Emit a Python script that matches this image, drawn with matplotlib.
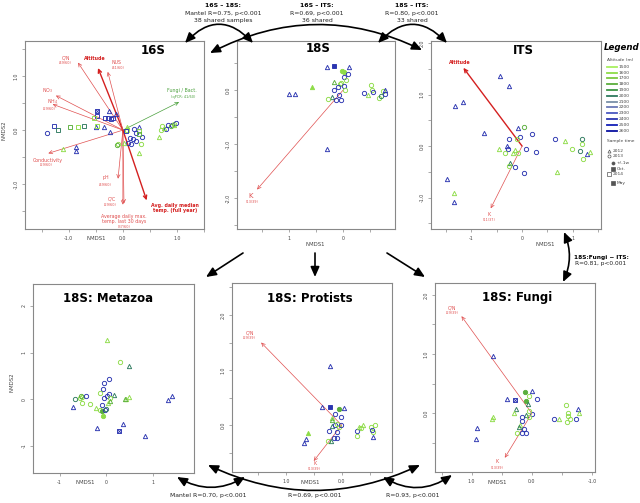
import matplotlib
matplotlib.use("Agg")
import matplotlib.pyplot as plt
from matplotlib.patches import FancyArrowPatch
from matplotlib.lines import Line2D
from matplotlib.ticker import MultipleLocator, FuncFormatter

W, H = 640, 503

# altitude classes (m) and their colours
altitudes = [1500, 1600, 1700, 1800, 1900, 2000, 2100, 2200, 2300, 2400, 2500, 2600]
alt_colors = ['#a8f060', '#8edc48', '#7cc840', '#5aae3c', '#3c9444', '#2e7a5e',
              '#7a90a8', '#6a78b8', '#4a58c0', '#2a34b0', '#1420b8', '#0a10a0']

# kinds: t=2012, c=2013, w=2013 +/-1w, x=2013 Oct., s=2014, m=2014 May, T=filled triangle
# ---- 16S ----
s16_x = [-1.41, -1.28, -1.20, -0.98, -0.83, -0.72, -1.10, -0.87, -0.87, -0.47, -0.48, -0.53, -0.33,
         -0.28, -0.22, -0.25, -0.13, -0.18, -0.49, -0.47, -0.35, -0.24, 0.07, 0.08, 0.05, 0.20,
         0.30, 0.30, 0.35, 0.25, 0.14, 0.19, 0.24, 0.10, 0.15, -0.09, -0.11, 0.02, 0.34, 0.29,
         0.66, 0.70, 0.72, 0.80, 0.83, 0.90, 0.94, 0.99, 0.89, 0.95, 0.76, 0.30]
s16_y = [-0.05, 0.07, 0.00, 0.06, 0.05, 0.08, -0.35, -0.32, -0.38, 0.36, 0.26, 0.22, 0.23,
         0.23, 0.20, 0.35, 0.30, 0.23, 0.06, 0.08, 0.06, -0.03, 0.01, 0.06, -0.02, 0.03,
         0.06, -0.01, -0.12, -0.06, -0.14, -0.17, -0.20, -0.24, -0.26, -0.25, -0.27, -0.23, -0.26, -0.42,
         -0.12, 0.00, 0.07, 0.03, 0.09, 0.10, 0.12, 0.14, 0.08, 0.10, 0.04, -0.08]
s16_kind = ("csssss" + "ttt" + "x" + "sssss" + "tt" + "s" + "t" + "s" + "tt" + "s" + "t" + "s" + "c"
            + "t" + "s" + "ccccccccc" + "t" + "c" + "tt" + "cccccccc" + "tt" + "s")
s16_alt = [2400, 2400, 2000, 1800, 1600, 2000, 1600, 2400, 2400, 2400, 2400, 1600, 2400,
           2400, 2400, 2400, 2400, 2400, 2400, 1600, 2400, 2400, 1600, 1600, 2400, 2400,
           2400, 1600, 2400, 2400, 2400, 2400, 2400, 2400, 2400, 1600, 1800, 1600, 1600, 1600,
           1600, 1600, 1600, 2400, 2400, 2400, 1600, 2400, 1800, 1600, 1600, 1800]
s16_vec_names = ['C/N', 'Altitude', 'NUS', 'NO$_3$', 'NH$_4$', 'Fungi / Bact.', 'Conductivity', 'pH',
                 'C/C', 'Average daily max.\ntemp. last 30 days', 'Avg. daily median\ntemp. (full year)']
s16_vec_x = [-0.83, -0.46, -0.28, -1.24, -1.30, 1.04, -1.38, -0.09, 0.02, 0.00, 0.44]
s16_vec_y = [1.25, 1.15, 1.08, 0.64, 0.48, 0.52, -0.43, -0.90, -1.36, -1.38, -1.30]
s16_vec_sub = ['(49/60)', '', '(41/60)', '', '(29/60)', '(qPCR: 41/60)', '(29/60)', '(49/60)',
               '(29/60)', '(37/60)', '']

# ---- 18S ----
s18_x = [0.30, 0.17, -0.11, 0.02, -0.01, -0.09, -0.02, -0.05, 0.17, 0.06, 0.03, 0.58, 0.09, -0.02,
         0.17, -0.04, 0.99, 0.88, 0.07, 0.21, 0.28, 0.13, 0.04, -0.38, -0.47, -0.52, -0.53, -0.56,
         -0.67, -0.70, -0.73, -0.78, -0.78, 0.30]
s18_y = [0.43, 0.44, 0.43, 0.35, 0.34, 0.30, 0.25, 0.19, 0.15, 0.12, 0.13, 0.06, 0.05, 0.07,
         0.00, 0.01, -0.08, -0.07, -0.09, -0.12, -0.17, -0.19, -0.19, -0.06, -0.09, 0.09, 0.00, -0.03,
         -0.14, -0.10, -0.02, 0.01, -0.08, -1.08]
s18_kind = ("tmtwwccct" + "ccT" + "cccc" + "tt" + "c" + "t" + "ccc" + "c" + "t" + "cccccc"
            + "t" + "c" + "t")
s18_alt = [2400, 2400, 2400, 1600, 1600, 2400, 2400, 1600, 1800, 1600, 1600, 1600, 2400, 2400,
           2400, 1600, 2400, 2400, 2400, 2000, 1600, 2400, 2400, 2400, 1600, 1600, 1600, 2400,
           1600, 2000, 1600, 2400, 2400, 2400]
s18_vec_names = ['K']
s18_vec_x = [1.59]
s18_vec_y = [-1.84]
s18_vec_sub = ['(13/39)']

# ---- ITS ----
its_x = [-0.44, -0.26, -1.33, -1.16, -0.75, -0.09, 0.04, 0.20, -0.04, -0.25, -0.10, 0.65, 0.85,
         1.19, 1.19, 0.98, 0.07, -0.46, -0.29, -0.27, -0.13, -0.33, -0.18, -0.08, 0.28, 1.15,
         1.28, 1.35, 1.20, -0.24, -0.26, -0.13, 0.03, 0.69, -1.48, -1.34, -1.35]
its_y = [1.37, 1.17, 0.78, 0.85, 0.26, 0.36, 0.37, 0.23, 0.18, 0.13, 0.14, 0.13, 0.10,
         0.13, 0.04, -0.06, -0.05, -0.05, 0.00, -0.06, -0.08, -0.14, -0.14, -0.13, -0.12, -0.09,
         -0.16, -0.11, -0.26, -0.32, -0.39, -0.41, -0.53, -0.51, -0.63, -0.92, -1.08]
its_kind = ("tttttt" + "cccccc" + "t" + "cccc" + "tt" + "c" + "t" + "c" + "t" + "ccc" + "tt"
            + "c" + "t" + "ccc" + "tttt")
its_alt = [2400, 2400, 2400, 2400, 2400, 2400, 1800, 2400, 2400, 2400, 1600, 2400, 1600,
           2000, 1600, 1600, 2400, 1600, 2400, 2400, 1600, 1600, 1600, 1600, 2400, 2000,
           2400, 1600, 1600, 2000, 1600, 2400, 2400, 1600, 2400, 1600, 2400]
its_vec_names = ['Altitude', 'K']
its_vec_x = [-1.16, -0.62]
its_vec_y = [1.52, -1.21]
its_vec_sub = ['', '(11/37)']

# ---- 18S: Metazoa ----
met_x = [0.03, 0.29, 0.50, 0.06, -0.05, -0.06, -0.14, 0.06, 0.16, 0.01, -0.05, 0.08, 0.43, 0.49,
         0.40, -0.66, -0.57, -0.51, -0.53, -0.43, -0.52, -0.35, -0.72, -0.09, 0.05, 0.09, -0.21,
         -0.13, -0.09, -0.06, -0.02, -0.01, 1.33, 1.41, 0.36, -0.19, 0.28, 0.83]
met_y = [1.27, 0.79, 0.72, 0.44, 0.35, 0.22, 0.13, 0.11, 0.09, 0.06, 0.03, 0.03, 0.00, 0.04,
         0.01, 0.01, 0.02, 0.04, 0.06, 0.06, -0.07, -0.10, -0.16, -0.12, -0.07, -0.04, -0.18,
         -0.22, -0.25, -0.35, -0.23, -0.20, -0.02, 0.07, -0.52, -0.61, -0.68, -0.79]
met_kind = ("tct" + "ccccc" + "t" + "ccc" + "ttt" + "ccccccc" + "t" + "c" + "ttt" + "c" + "ww"
            + "cc" + "tttt" + "x" + "t")
met_alt = [1600, 1600, 2000, 2400, 2400, 2400, 1600, 2400, 2000, 2400, 2400, 1600, 1600, 1600,
           1800, 2000, 1600, 1600, 1800, 2400, 1600, 1600, 2400, 2400, 1600, 1800, 1600,
           1600, 1800, 1600, 2400, 2000, 2400, 2400, 2400, 2400, 2400, 2400]

# ---- 18S: Protists ----
pro_x = [0.20, 0.36, 0.20, 0.04, -0.04, 0.11, 0.01, 0.17, 0.17, 0.17, 0.12, 0.08, 0.05, 0.01,
         0.22, 0.08, 0.13, 0.08, 0.25, 0.19, 0.61, 0.64, 0.67, -0.28, -0.28, -0.31, -0.39,
         -0.35, -0.53, -0.56, -0.59, -0.56, -0.54]
pro_y = [1.07, 0.33, 0.33, 0.29, 0.31, 0.20, 0.15, 0.13, 0.10, -0.01, 0.00, 0.03, -0.04, 0.01,
         -0.10, -0.13, -0.23, -0.24, -0.28, -0.28, -0.14, -0.26, -0.32, -0.11, -0.19, -0.04, 0.01,
         -0.05, -0.03, -0.12, 0.00, -0.22, -0.08]
pro_kind = "ttmwtcc" + "ttt" + "ccccccccc" + "t" + "Ttt" + "cc" + "tt" + "cccc" + "tc"
pro_alt = [2400, 2400, 2400, 1800, 2400, 2400, 2400, 1600, 1800, 2000, 2400, 1600, 1600, 2400,
           2400, 2400, 2400, 2400, 1600, 2000, 1600, 2400, 2400, 2400, 1600, 1600, 1600,
           1600, 1600, 1600, 1600, 2400, 2400]
pro_vec_names = ['C/N', 'K']
pro_vec_x = [1.44, 0.50]
pro_vec_y = [1.50, -0.65]
pro_vec_sub = ['(29/39)', '(13/39)']

# ---- 18S: Fungi ----
fun_x = [0.65, 0.41, 0.28, 0.11, -0.01, 0.05, -0.08, 0.09, 0.07, 0.26, 0.30, 0.00, 0.05, 0.10,
         0.17, 0.05, 0.16, 0.20, 0.21, 0.13, 0.25, 0.17, 0.09, 0.64, 0.67, 0.91, 0.93, -0.37,
         -0.45, -0.57, -0.60, -0.60, -0.64, -0.59, -0.74, -0.77, -0.78]
fun_y = [0.97, 0.24, 0.22, 0.36, 0.38, 0.30, 0.25, 0.20, 0.16, 0.07, 0.00, -0.01, 0.04, -0.03,
         -0.06, -0.07, -0.13, -0.20, -0.23, -0.27, -0.33, -0.34, -0.34, -0.06, -0.10, -0.24, -0.43,
         -0.10, -0.09, 0.14, 0.01, -0.05, -0.10, -0.15, -0.10, 0.08, 0.01]
fun_kind = "ttxwtccwttt" + "cctccc" + "tt" + "cccc" + "tttt" + "ct" + "cccccc" + "tt"
fun_alt = [2400, 2400, 2400, 1800, 2400, 1600, 2400, 1800, 2000, 2000, 1600, 2400, 1600, 2000,
           2400, 1600, 2400, 1600, 2000, 2400, 1600, 2400, 2400, 1600, 1600, 2400, 2400, 2400,
           1600, 1600, 1600, 1600, 1600, 1600, 2400, 2400, 1600]
fun_vec_names = ['C/N', 'K']
fun_vec_x = [1.17, 0.45]
fun_vec_y = [1.64, -0.75]
fun_vec_sub = ['(29/39)', '(13/39)']

# ---------------------------------------------------------------------------
col_of = dict(zip(altitudes, alt_colors))
RED = '#d42020'
LRED = '#e05050'
TXT = '#444444'

fig = plt.figure(figsize=(6.4, 5.03), dpi=100)
fig.patch.set_facecolor('white')


def fp(x, y):
    return (x / W, 1 - y / H)


def int_fmt(fmt):
    return FuncFormatter(lambda v, p: (fmt % (round(v) + 0.0)) if abs(v - round(v)) < 1e-6 else '')


def panel(box, xlim, ylim, step, xfmt, yfmt):
    l, t, r, b = box
    ax = fig.add_axes([l / W, 1 - b / H, (r - l) / W, (b - t) / H])
    ax.set_xlim(xlim)
    ax.set_ylim(ylim)
    for sp in ax.spines.values():
        sp.set_color('#888888')
        sp.set_linewidth(0.8)
    ax.xaxis.set_major_locator(MultipleLocator(step))
    ax.yaxis.set_major_locator(MultipleLocator(step))
    ax.xaxis.set_major_formatter(int_fmt(xfmt))
    ax.yaxis.set_major_formatter(int_fmt(yfmt))
    ax.tick_params(labelsize=3.4, length=2.5, width=0.5, color='#888888',
                   labelcolor=TXT, pad=2.2)
    for lab in ax.get_yticklabels():
        lab.set_rotation(90)
        lab.set_va('center')
    return ax


def draw_points(ax, xs, ys, kinds, alts):
    assert len(xs) == len(ys) == len(kinds) == len(alts)
    for x, y, k, a in zip(xs, ys, kinds, alts):
        c = col_of[a]
        kw = dict(ms=3.1, mew=0.65, mec=c, ls='none', zorder=3)
        if k == 't':
            ax.plot(x, y, marker='^', mfc='none', **kw)
        elif k == 'T':
            ax.plot(x, y, marker='^', mfc=c, **kw)
        elif k == 'c':
            ax.plot(x, y, marker='o', mfc='none', **kw)
        elif k == 'w':
            ax.plot(x, y, marker='o', mfc=c, **kw)
        elif k == 's':
            ax.plot(x, y, marker='s', mfc='none', **kw)
        elif k == 'm':
            ax.plot(x, y, marker='s', mfc=c, **kw)
        elif k == 'x':
            ax.plot(x, y, marker='s', mfc='none', **kw)
            ax.plot(x, y, marker='x', ms=2.2, mew=0.6, mec=c, ls='none', zorder=3)


def draw_vectors(ax, names, vx, vy, subs, styles, offsets, sub_offsets, big_k=False):
    for i in range(len(names)):
        st = styles[i]
        if st == 'bold':
            c, lw, fw = RED, 1.0, 'bold'
        elif st == 'green':
            c, lw, fw = '#4aa03c', 0.5, 'normal'
        else:
            c, lw, fw = LRED, 0.5, 'normal'
        ax.annotate('', xy=(vx[i], vy[i]), xytext=(0, 0),
                    arrowprops=dict(arrowstyle='->,head_length=0.25,head_width=0.12',
                                    color=c, lw=lw, shrinkA=0, shrinkB=0), zorder=2)
        fs = 5.0 if (names[i] == 'K' and big_k) else 3.4
        ax.annotate(names[i], xy=(vx[i], vy[i]), xytext=offsets[i], textcoords='offset pixels',
                    ha='center', va='center', fontsize=fs, color=c,
                    fontweight=fw, linespacing=1.0)
        if subs[i]:
            ax.annotate(subs[i], xy=(vx[i], vy[i]), xytext=sub_offsets[i], textcoords='offset pixels',
                        ha='center', va='center', fontsize=2.5, color=c)


# ---- top row ----
ax16 = panel((25, 41, 204, 229), (-1.81, 1.5), (-1.83, 1.65), 0.5, '%.1f', '%.1f')
draw_points(ax16, s16_x, s16_y, s16_kind, s16_alt)
draw_vectors(ax16, s16_vec_names, s16_vec_x, s16_vec_y, s16_vec_sub,
             ['n', 'bold', 'n', 'n', 'n', 'green', 'n', 'n', 'n', 'n', 'bold'],
             [(-12, 5), (-3, 10), (9, 9), (-8, 5), (0, 3), (3, 12), (-1, -7), (-12, 1), (-12, 5),
              (1, -14), (28, -8)],
             [(-13, 0), (0, 0), (10, 4), (0, 0), (-3, -5), (4, 5), (-2, -12), (-13, -6), (-14, -1),
              (1, -22), (0, 0)])

ax18 = panel((237, 41, 395, 229), (1.96, -0.96), (-2.57, 0.91), 0.5, '%d', '%.1f')
draw_points(ax18, s18_x, s18_y, s18_kind, s18_alt)
draw_vectors(ax18, s18_vec_names, s18_vec_x, s18_vec_y, s18_vec_sub, ['n'],
             [(-6, -6)], [(-5, -12)], big_k=True)

axits = panel((431, 41, 601, 229), (-1.80, 1.56), (-1.61, 2.04), 0.5, '%d', '%.1f')
draw_points(axits, its_x, its_y, its_kind, its_alt)
draw_vectors(axits, its_vec_names, its_vec_x, its_vec_y, its_vec_sub, ['bold', 'n'],
             [(-4, 5), (-2, -6)], [(0, 0), (-2, -12)])

# ---- bottom row ----
axmet = panel((33, 284, 194, 473), (-1.57, 1.89), (-1.58, 2.47), 1, '%d', '%d')
draw_points(axmet, met_x, met_y, met_kind, met_alt)

axpro = panel((232, 283, 392, 472), (1.96, -0.90), (-0.85, 2.58), 0.5, '%.1f', '%.1f')
draw_points(axpro, pro_x, pro_y, pro_kind, pro_alt)
draw_vectors(axpro, pro_vec_names, pro_vec_x, pro_vec_y, pro_vec_sub, ['n', 'n'],
             [(-11, 10), (1, -3)], [(-12, 5), (1, -8)])

axfun = panel((435, 283, 595, 472), (1.61, -1.05), (-0.99, 2.2), 0.5, '%.1f', '%.1f')
draw_points(axfun, fun_x, fun_y, fun_kind, fun_alt)
draw_vectors(axfun, fun_vec_names, fun_vec_x, fun_vec_y, fun_vec_sub, ['n', 'n'],
             [(-9, 8), (-8, -4)], [(-9, 3), (-8, -10)])

# ---- titles and axis labels ----
titles = [('16S', 153, 51), ('18S', 318, 49), ('ITS', 523, 51),
          ('18S: Metazoa', 108, 299), ('18S: Protists', 310, 298), ('18S: Fungi', 517, 297)]
for t, x, y in titles:
    fig.text(*fp(x, y), t, ha='center', va='center', fontsize=8.5, fontweight='bold')

for x, y in [(96, 239), (315, 244), (545, 245), (85, 483), (310, 483), (497, 483)]:
    fig.text(*fp(x, y), 'NMDS1', ha='center', va='center', fontsize=3.9, color=TXT)
for x, y in [(4, 130), (12, 382)]:
    fig.text(*fp(x, y), 'NMDS2', ha='center', va='center', fontsize=3.9, color=TXT, rotation=90)


# ---- connectors ----
def connector(a, b, rad, both=True):
    style = '<|-|>' if both else '-|>'
    arr = FancyArrowPatch(fp(*a), fp(*b), transform=fig.transFigure,
                          connectionstyle='arc3,rad=%s' % rad,
                          arrowstyle=style + ',head_length=0.5,head_width=0.22',
                          mutation_scale=12, color='black', lw=1.2,
                          shrinkA=0, shrinkB=0)
    fig.add_artist(arr)


connector((185, 43), (253, 43), -0.53)
connector((210, 53), (422, 50), -0.25)
connector((378, 43), (447, 43), -0.52)
connector((243, 253), (206, 277), 0, both=False)
connector((315, 253), (315, 277), 0, both=False)
connector((387, 253), (425, 277), 0, both=False)
connector((177, 477), (245, 477), 0.29)
connector((208, 465), (420, 465), 0.236)
connector((383, 477), (452, 475), 0.32)
connector((564, 232), (563, 282), -0.22)

notes = [
    (223, ['16S \u2013 18S:', 'Mantel R=0.75, p<0.001', '38 shared samples']),
    (317, ['16S \u2013 ITS:', 'R=0.69, p<0.001', '36 shared']),
    (412, ['18S \u2013 ITS:', 'R=0.80, p<0.001', '33 shared']),
]
for x, lines in notes:
    fig.text(*fp(x, 5.5), lines[0], ha='center', va='center', fontsize=4.4, fontweight='bold')
    fig.text(*fp(x, 13.3), lines[1], ha='center', va='center', fontsize=4.4, color='#222222')
    fig.text(*fp(x, 20.5), lines[2], ha='center', va='center', fontsize=4.4, color='#222222')

for x, s in [(208, 'Mantel R=0.70, p<0.001'), (315, 'R=0.69, p<0.001'), (413, 'R=0.93, p<0.001')]:
    fig.text(*fp(x, 495), s, ha='center', va='center', fontsize=4.4, color='#222222')

fig.text(*fp(601, 257), '18S:Fungi ~ ITS:', ha='center', va='center', fontsize=4.2, fontweight='bold')
fig.text(*fp(601, 263.5), 'R=0.81, p<0.001', ha='center', va='center', fontsize=4.2, color='#222222')

# ---- legend ----
fig.text(*fp(604, 48), 'Legend', ha='left', va='center', fontsize=6.2,
         fontweight='bold', style='italic')
fig.text(*fp(607, 60.3), 'Altitude (m)', ha='left', va='center', fontsize=3.2, color=TXT)
for i, (a, c) in enumerate(zip(altitudes, alt_colors)):
    yy = 66.7 + i * 5.82
    fig.add_artist(Line2D([607 / W, 617 / W], [1 - yy / H] * 2, color=c, lw=1.3,
                          transform=fig.transFigure))
    fig.text(*fp(619, yy), str(a), ha='left', va='center', fontsize=3.2, color=TXT)
fig.text(*fp(607, 141), 'Sample time', ha='left', va='center', fontsize=3.2, color=TXT)
leg_items = [('^', 'none', 609, 150.7, '2012'), ('o', 'none', 609, 155.7, '2013'),
             ('o', 'k', 613, 163, '+/-1w'), ('s', 'k', 613, 168.7, 'Oct.'),
             ('s', 'none', 609, 174, '2014'), ('s', 'k', 613, 182.7, 'May')]
for m, fc, x, y, s in leg_items:
    fig.add_artist(Line2D([x / W], [1 - y / H], marker=m, ms=2.2, mew=0.5, mec='#555555',
                          mfc=fc if fc == 'none' else '#555555', ls='none',
                          transform=fig.transFigure))
    fig.text(*fp(x + 4, y), s, ha='left', va='center', fontsize=3.2, color=TXT)

fig.savefig('out.png', dpi=100)
